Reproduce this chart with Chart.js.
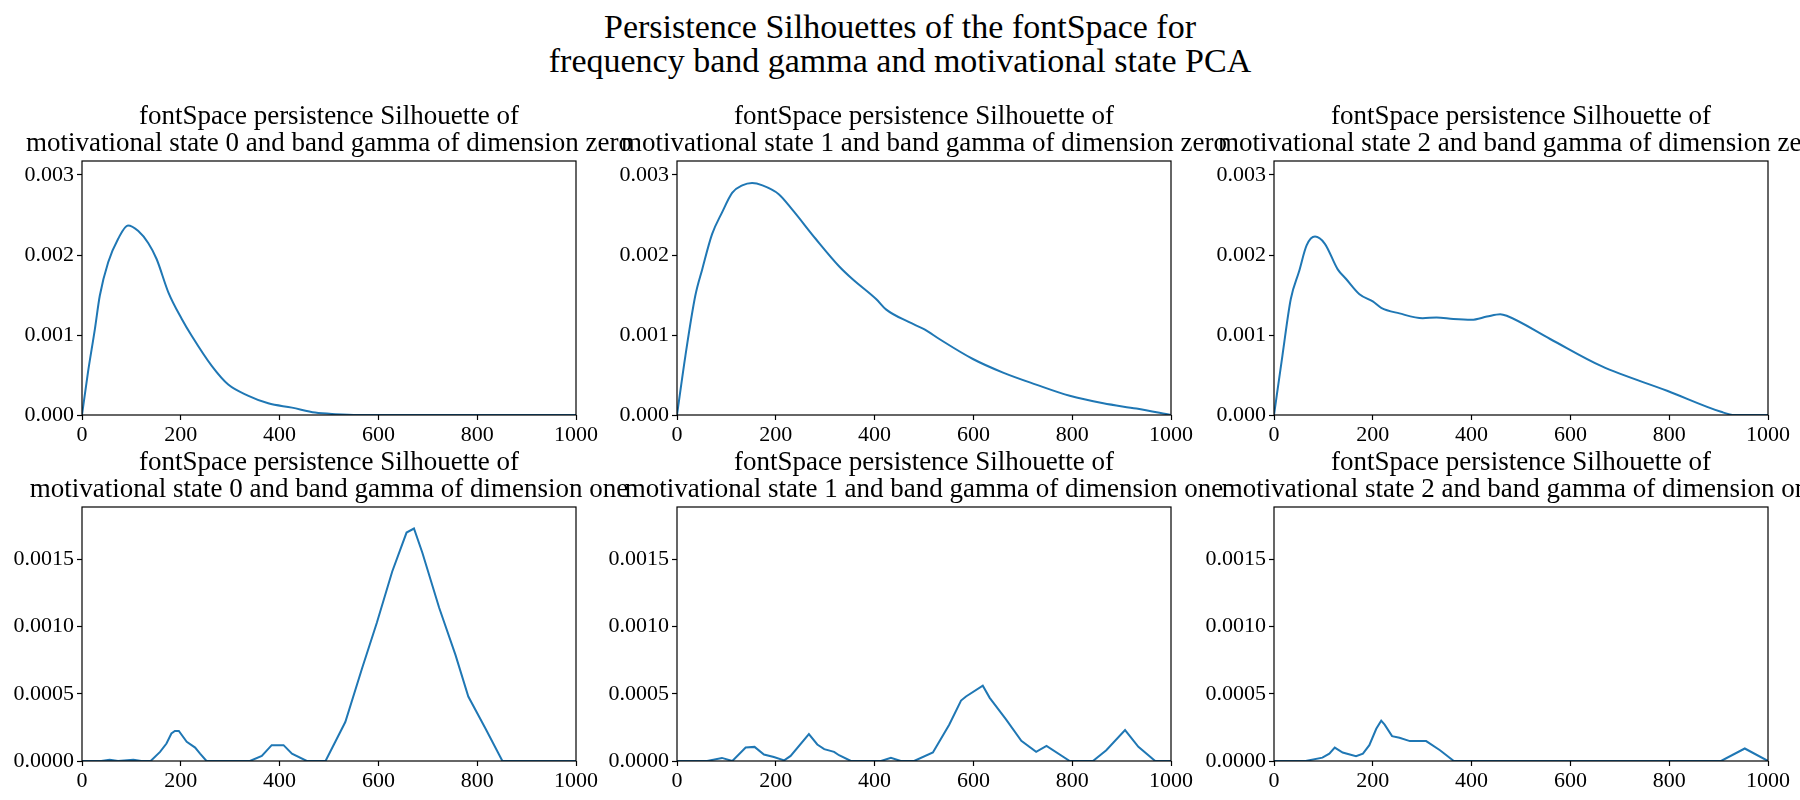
<!DOCTYPE html>
<html>
<head>
<meta charset="utf-8">
<script src="https://cdn.jsdelivr.net/npm/chart.js@4.4.1/dist/chart.umd.min.js"></script>
<style>
  html, body { margin: 0; padding: 0; background: #fff; }
  body { width: 1800px; height: 800px; position: relative; overflow: hidden; }
  #suptitle {
    position: absolute; left: 0; top: 10px; width: 1800px; text-align: center;
    font-family: 'Liberation Serif', 'Times New Roman', serif; font-size: 34px; line-height: 34px; color: #000;
  }
  canvas { position: absolute; }
</style>
</head>
<body>
<div id="suptitle">Persistence Silhouettes of the fontSpace for<br>frequency band gamma and motivational state PCA</div>
<canvas id="p00" width="794" height="357"></canvas>
<canvas id="p01" width="794" height="357"></canvas>
<canvas id="p02" width="794" height="357"></canvas>
<canvas id="p10" width="794" height="357"></canvas>
<canvas id="p11" width="794" height="357"></canvas>
<canvas id="p12" width="794" height="357"></canvas>
<script>
const SERIF = "'Liberation Serif', 'Times New Roman', serif";

// x ticks shared by all panels
const xTicks = [0, 200, 400, 600, 800, 1000];

// dimension zero silhouettes
const zeroState0X = [0, 12, 26, 36, 53, 73, 93, 114, 134, 151, 175, 202, 222, 263, 296, 337, 377, 425, 472, 513, 560, 1000];
const zeroState0Y = [0, 0.00053, 0.00107, 0.00149, 0.00191, 0.0022, 0.00237, 0.0023, 0.00215, 0.00195, 0.00153, 0.0012, 0.00099, 0.00061, 0.00038, 0.00024, 0.000146, 0.000092, 0.00003, 0.00001, 0, 0];

const zeroState1X = [0, 17, 37, 51, 71, 91, 112, 132, 152, 173, 206, 233, 281, 328, 355, 403, 423, 470, 501, 531, 599, 660, 727, 795, 863, 930, 1000];
const zeroState1Y = [0, 0.00074, 0.00149, 0.00182, 0.00226, 0.00253, 0.00278, 0.00287, 0.0029, 0.00287, 0.00276, 0.00257, 0.0022, 0.00186, 0.0017, 0.00145, 0.00132, 0.00116, 0.00107, 0.00095, 0.0007, 0.00053, 0.00038, 0.00024, 0.000146, 0.00008, 0];

const zeroState2X = [0, 17, 34, 51, 66, 83, 103, 129, 146, 173, 200, 217, 254, 301, 329, 363, 400, 431, 458, 471, 559, 663, 797, 905, 932, 1000];
const zeroState2Y = [0, 0.00074, 0.00145, 0.0018, 0.00212, 0.00223, 0.00214, 0.00182, 0.0017, 0.00151, 0.00142, 0.00134, 0.00127, 0.00121, 0.00122, 0.0012, 0.00119, 0.00123, 0.00126, 0.00124, 0.00095, 0.00061, 0.0003, 0.00004, 0, 0];

// dimension one silhouettes
const oneState0X = [0, 39, 56, 73, 104, 120, 139, 158, 171, 181, 188, 196, 212, 229, 239, 252, 340, 364, 384, 408, 425, 455, 493, 533, 567, 597, 628, 657, 672, 689, 723, 756, 782, 817, 851, 1000];
const oneState0Y = [0, 0, 0.00001, 0, 0.00001, 0, 0, 0.000068, 0.00013, 0.000205, 0.000223, 0.000223, 0.000143, 0.0001, 0.000055, 0, 0, 0.000038, 0.000118, 0.000118, 0.000055, 0, 0, 0.00029, 0.00069, 0.00103, 0.00141, 0.0017, 0.00173, 0.00155, 0.00114, 0.00079, 0.00048, 0.00024, 0, 0];

const oneState1X = [0, 61, 91, 112, 139, 157, 176, 196, 217, 230, 267, 284, 298, 318, 328, 352, 413, 433, 453, 480, 518, 551, 575, 585, 619, 633, 666, 697, 727, 748, 795, 842, 869, 907, 934, 968, 1000];
const oneState1Y = [0, 0, 0.000023, 0, 0.0001, 0.000105, 0.000048, 0.00003, 0.000005, 0.000038, 0.0002, 0.000123, 0.000088, 0.000068, 0.000043, 0, 0, 0.000023, 0, 0, 0.000063, 0.00027, 0.00045, 0.00048, 0.00056, 0.00047, 0.00031, 0.00015, 0.000068, 0.000113, 0, 0, 0.00008, 0.00023, 0.000105, 0, 0];

const oneState2X = [0, 64, 98, 112, 123, 139, 166, 180, 193, 207, 217, 224, 239, 254, 275, 308, 336, 364, 905, 953, 1000];
const oneState2Y = [0, 0, 0.000025, 0.000055, 0.0001, 0.000063, 0.000035, 0.000055, 0.000118, 0.00024, 0.0003, 0.00027, 0.000185, 0.000173, 0.000148, 0.000148, 0.00008, 0, 0, 0.000093, 0];

const states = ['0', '1', '2'];
const dimNames = ['zero', 'one'];

// shared y ranges per row
const zeroYMax = 0.003175;
const oneYMax = 0.00189;

// box around the axes, matplotlib style
const framePlugin = {
  id: 'frame',
  afterDraw(chart) {
    const a = chart.chartArea;
    const ctx = chart.ctx;
    ctx.save();
    ctx.strokeStyle = '#000';
    ctx.lineWidth = 1.2;
    ctx.strokeRect(a.left, a.top, a.right - a.left, a.bottom - a.top);
    ctx.restore();
  }
};

const AXIS_W = 70;
const SIDE_PAD = 80;

function makePanel(id, left, top, xs, ys, yMax, yStep, decimals, title, smooth) {
  const el = document.getElementById(id);
  el.style.left = left + 'px';
  el.style.top = top + 'px';
  return new Chart(el, {
    type: 'line',
    data: {
      datasets: [{
        data: xs.map((x, i) => ({ x: x, y: ys[i] })),
        borderColor: '#1f77b4',
        borderWidth: 2,
        pointRadius: 0,
        fill: false,
        tension: 0,
        cubicInterpolationMode: smooth ? 'monotone' : 'default'
      }]
    },
    options: {
      responsive: false,
      animation: false,
      devicePixelRatio: 1,
      layout: { padding: { left: SIDE_PAD, right: SIDE_PAD, top: 0, bottom: 0 } },
      plugins: {
        legend: { display: false },
        tooltip: { enabled: false },
        title: {
          display: true,
          text: title,
          fullSize: true,
          color: '#000',
          font: { family: SERIF, size: 27, weight: 'normal', lineHeight: 1.0 },
          padding: { top: 0, bottom: 4 }
        }
      },
      scales: {
        x: {
          type: 'linear',
          min: xTicks[0],
          max: xTicks[xTicks.length - 1],
          afterFit(s) { s.height = 45; },
          afterBuildTicks(s) { s.ticks = xTicks.map(v => ({ value: v })); },
          border: { display: false },
          grid: { drawOnChartArea: false, drawTicks: true, tickLength: 5, color: '#000', tickWidth: 1.2 },
          ticks: {
            padding: 2, color: '#000', font: { family: SERIF, size: 22 }, maxRotation: 0, autoSkip: false,
            callback: v => String(v)
          }
        },
        y: {
          min: 0,
          max: yMax,
          afterFit(s) { s.width = AXIS_W; },
          border: { display: false },
          grid: { drawOnChartArea: false, drawTicks: true, tickLength: 5, color: '#000', tickWidth: 1.2 },
          ticks: {
            stepSize: yStep,
            includeBounds: false,
            padding: 3,
            color: '#000',
            font: { family: SERIF, size: 22 },
            callback: v => Number(v).toFixed(decimals)
          }
        },
        // empty right axis so the title is centred over the plot area
        yBalance: {
          position: 'right',
          min: 0,
          max: yMax,
          afterFit(s) { s.width = AXIS_W; },
          border: { display: false },
          grid: { display: false },
          ticks: { display: false }
        }
      }
    },
    plugins: [framePlugin]
  });
}

const colLeft = [82, 677, 1273.5].map(v => v - SIDE_PAD - AXIS_W);
const rowTop = [161 - 58, 506.5 - 58];

function titleFor(state, dim) {
  return ['fontSpace persistence Silhouette of',
          'motivational state ' + state + ' and band gamma of dimension ' + dim];
}

makePanel('p00', colLeft[0], rowTop[0], zeroState0X, zeroState0Y, zeroYMax, 0.001, 3, titleFor(states[0], dimNames[0]), true);
makePanel('p01', colLeft[1], rowTop[0], zeroState1X, zeroState1Y, zeroYMax, 0.001, 3, titleFor(states[1], dimNames[0]), true);
makePanel('p02', colLeft[2], rowTop[0], zeroState2X, zeroState2Y, zeroYMax, 0.001, 3, titleFor(states[2], dimNames[0]), true);
makePanel('p10', colLeft[0], rowTop[1], oneState0X, oneState0Y, oneYMax, 0.0005, 4, titleFor(states[0], dimNames[1]), false);
makePanel('p11', colLeft[1], rowTop[1], oneState1X, oneState1Y, oneYMax, 0.0005, 4, titleFor(states[1], dimNames[1]), false);
makePanel('p12', colLeft[2], rowTop[1], oneState2X, oneState2Y, oneYMax, 0.0005, 4, titleFor(states[2], dimNames[1]), false);
</script>
</body>
</html>
